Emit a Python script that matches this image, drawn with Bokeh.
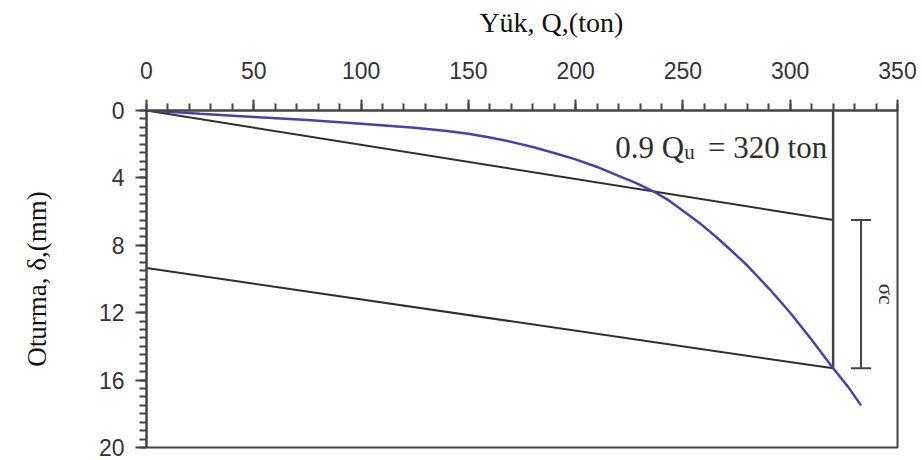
from math import pi

from bokeh.embed import file_html
from bokeh.layouts import column
from bokeh.models import FixedTicker, Label, Range1d
from bokeh.plotting import figure
from bokeh.resources import INLINE

# Load-settlement curve (load in ton, settlement in mm)
load_q = [0, 10, 25, 50, 75, 100, 125, 140, 150, 160, 170, 180, 190, 200, 210, 220,
          228, 236, 243, 250, 258, 265, 272, 280, 290, 300, 310, 320, 327, 333]
settle = [0, 0.08, 0.2, 0.38, 0.57, 0.78, 1.03, 1.22, 1.38, 1.6, 1.86, 2.17, 2.52, 2.9,
          3.35, 3.88, 4.3, 4.78, 5.3, 5.95, 6.7, 7.45, 8.25, 9.2, 10.55, 12.0, 13.6,
          15.3, 16.4, 17.5]

# Elastic line from the origin and the parallel offset line
elastic_q = [0, 320]
elastic_d = [0, 6.5]
offset_q = [0, 320]
offset_d = [9.35, 15.3]

# Failure load 0.9 Qu
q_fail = 320
d_fail = 15.3

# Offset dimension marker
marker_q = 333
marker_top = 6.5
marker_bottom = 15.3
marker_cap = 4.7

x_ticks = [0, 50, 100, 150, 200, 250, 300, 350]
x_minor = list(range(0, 351, 10))
y_ticks = [0, 4, 8, 12, 16, 20]
y_minor = [i * 0.5 for i in range(41)]

AXIS = "#444444"
INK = "#2e2e2e"
BLUE = "#4343a8"
SERIF = "Liberation Serif"
SANS = "Liberation Sans"

# Header strip carrying the load-axis title
head = figure(
    width=922, height=45,
    x_range=Range1d(0, 922), y_range=Range1d(0, 45),
    x_axis_type=None, y_axis_type=None,
    toolbar_location=None, output_backend="svg", min_border=0,
)
head.grid.visible = False
head.outline_line_color = None
head.add_layout(Label(x=497, y=23, text="Yük, Q,(ton)", text_font=SERIF,
                      text_font_size="28px", text_color="#111111",
                      text_align="center", text_baseline="middle"))

p = figure(
    width=922, height=415,
    x_range=Range1d(0, 350), y_range=Range1d(20, 0),
    x_axis_location="above",
    toolbar_location=None, output_backend="svg",
    min_border_left=146, min_border_right=25,
    min_border_top=65, min_border_bottom=13,
)
p.grid.visible = False
p.outline_line_color = AXIS
p.outline_line_width = 2
p.outline_line_alpha = 1

for ax, ticks, minor in ((p.xaxis[0], x_ticks, x_minor), (p.yaxis[0], y_ticks, y_minor)):
    ax.ticker = FixedTicker(ticks=ticks, minor_ticks=minor)
    ax.axis_line_color = AXIS
    ax.axis_line_width = 2
    ax.major_tick_line_color = AXIS
    ax.major_tick_line_width = 2
    ax.minor_tick_line_color = AXIS
    ax.minor_tick_line_width = 2
    ax.major_tick_in = 0
    ax.major_tick_out = 11
    ax.minor_tick_in = 0
    ax.minor_tick_out = 7
    ax.major_label_text_font = SANS
    ax.major_label_text_font_size = "23px"
    ax.major_label_text_color = "#333333"
p.xaxis.major_label_standoff = 21
p.yaxis.major_label_standoff = 11

# Settlement axis title
p.yaxis.axis_label = "Oturma, δ,(mm)"
p.yaxis.axis_label_text_font = SERIF
p.yaxis.axis_label_text_font_size = "27px"
p.yaxis.axis_label_text_font_style = "normal"
p.yaxis.axis_label_text_color = "#111111"
p.yaxis.axis_label_standoff = 44

# Reference lines
p.line(elastic_q, elastic_d, line_color=INK, line_width=2)
p.line(offset_q, offset_d, line_color=INK, line_width=2)
p.segment(x0=[q_fail], y0=[0], x1=[q_fail], y1=[d_fail], line_color=AXIS, line_width=2.5)

# Offset marker with end caps
p.segment(
    x0=[marker_q, marker_q - marker_cap, marker_q - marker_cap],
    y0=[marker_top, marker_top, marker_bottom],
    x1=[marker_q, marker_q + marker_cap, marker_q + marker_cap],
    y1=[marker_bottom, marker_top, marker_bottom],
    line_color=AXIS, line_width=2,
)

# Measured curve
p.line(load_q, settle, line_color=BLUE, line_width=2.5)

# Annotation 0.9 Qu = 320 ton
p.add_layout(Label(x=q_fail, y=0, x_offset=-218, y_offset=-37, text="0.9 Q",
                   text_font=SERIF, text_font_size="31px", text_color=INK,
                   text_baseline="alphabetic"))
p.add_layout(Label(x=q_fail, y=0, x_offset=-149, y_offset=-41, text="u",
                   text_font=SERIF, text_font_size="21px", text_color=INK,
                   text_baseline="alphabetic"))
p.add_layout(Label(x=q_fail, y=0, x_offset=-6, y_offset=-37, text="= 320 ton",
                   text_font=SERIF, text_font_size="31px", text_color=INK,
                   text_align="right", text_baseline="alphabetic"))

# Offset symbol beside the marker
p.add_layout(Label(x=marker_q, y=(marker_top + marker_bottom) / 2, x_offset=25,
                   text="σc", angle=-pi / 2, text_font=SERIF,
                   text_font_size="21px", text_color=INK,
                   text_align="center", text_baseline="middle"))

layout = column(head, p, spacing=0)

open("out.html", "w").write(file_html(layout, INLINE))
